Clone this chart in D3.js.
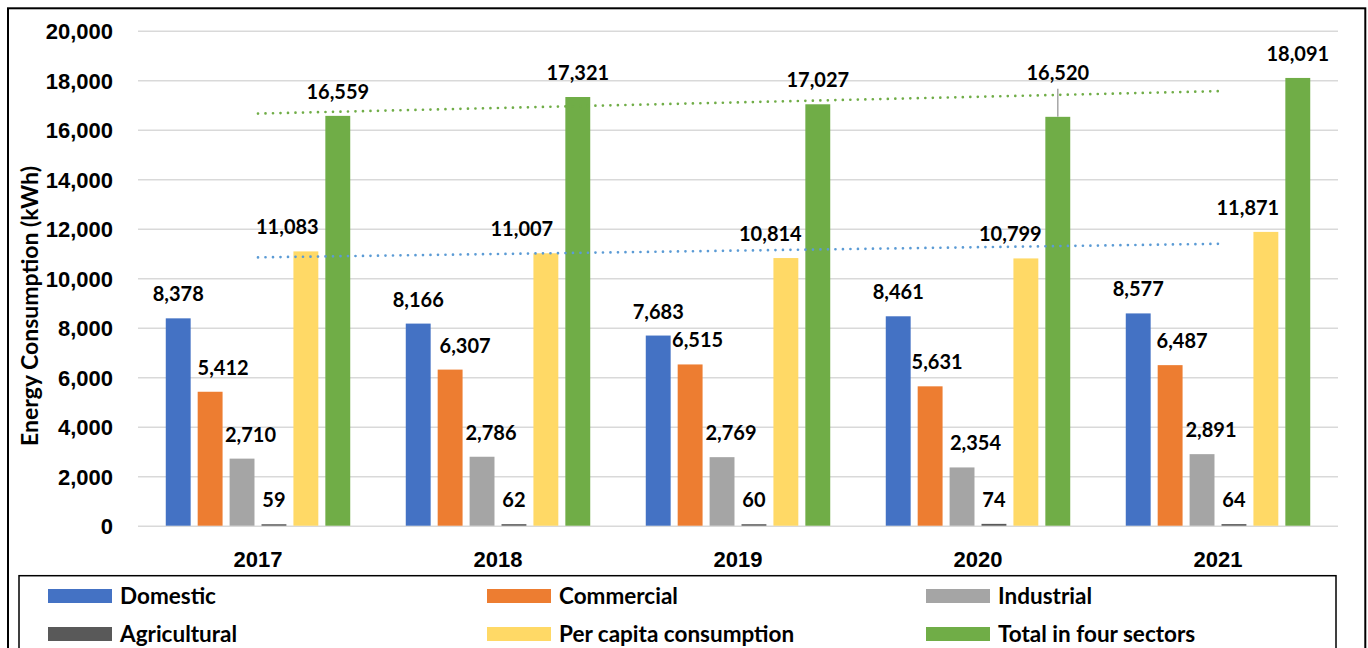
<!DOCTYPE html>
<html>
<head>
<meta charset="utf-8">
<script src="https://cdn.jsdelivr.net/npm/d3@7"></script>
<style>
  html, body { margin: 0; padding: 0; background: #fff; }
  svg { display: block; font-family: Lato, "Open Sans", "DejaVu Sans", sans-serif; font-weight: 700; }
</style>
</head>
<body>
<svg id="chart" width="1368" height="648"></svg>
<script>
// Energy consumption by sector, 2017–2021 (kWh)
const years = ["2017", "2018", "2019", "2020", "2021"];
const domestic     = [8378, 8166, 7683, 8461, 8577];
const commercial   = [5412, 6307, 6515, 5631, 6487];
const industrial   = [2710, 2786, 2769, 2354, 2891];
const agricultural = [59, 62, 60, 74, 64];
const perCapita    = [11083, 11007, 10814, 10799, 11871];
const totalFour    = [16559, 17321, 17027, 16520, 18091];
const yTicks = [0, 2000, 4000, 6000, 8000, 10000, 12000, 14000, 16000, 18000, 20000];

const seriesNames = ["Domestic", "Commercial", "Industrial", "Agricultural", "Per capita consumption", "Total in four sectors"];
const seriesValues = [domestic, commercial, industrial, agricultural, perCapita, totalFour];
const seriesColors = ["#4472C4", "#ED7D31", "#A5A5A5", "#595959", "#FFD966", "#70AD47"];

// Hand-placed label nudges (px) so neighbouring value labels don't collide
const labelNudgeX = [
  [0, 0, 0, 0, 0],
  [13, 15, 7.5, 7, 12],
  [8.5, 9, 9, 13.5, 9],
  [0, 0, 0, 0, 0],
  [-18.5, -24, -15.5, -15.5, -18],
  [0, 0, 0, 0, 0]
];
const labelLiftY = [
  [0, 0, 0, 0, 0],
  [0, 0, 0, 0, 0],
  [0, 0, 0, 0, 0],
  [0, 0, 0, 0, 0],
  [0, 0, 0, 0, 0],
  [0, 0, 0, 20, 0]
];

const series = seriesNames.map((name, i) => ({
  key: name, color: seriesColors[i],
  values: years.map((yr, j) => ({ year: yr, value: seriesValues[i][j], dx: labelNudgeX[i][j], lift: labelLiftY[i][j] }))
}));

const plot = { left: 138, right: 1338, top: 30.7, bottom: 525.7 };
const svg = d3.select("#chart");
const fmt = d3.format(",");

// outer frame
svg.append("rect")
  .attr("x", 8).attr("y", 8.3).attr("width", 1357.3).attr("height", 700)
  .attr("fill", "none").attr("stroke", "#000").attr("stroke-width", 2);

const x0 = d3.scaleBand().domain(years).range([plot.left, plot.right]);
const x1 = d3.scaleBand().domain(seriesNames).range([0, x0.bandwidth()])
  .paddingInner(0.22).paddingOuter(0.87);
const y = d3.scaleLinear().domain([0, 20000]).range([plot.bottom, plot.top]);

// y axis with gridlines
const yAxis = svg.append("g")
  .attr("transform", `translate(${plot.left},0)`)
  .call(d3.axisLeft(y).tickValues(yTicks).tickFormat(fmt)
    .tickSize(-(plot.right - plot.left)).tickPadding(25));
yAxis.select(".domain").remove();
yAxis.selectAll(".tick line").attr("stroke", "#D9D9D9").attr("stroke-width", 1.6);
yAxis.selectAll(".tick text")
  .attr("fill", "#000").attr("font-size", 22).attr("font-family", null).attr("dy", "0.36em");

// x axis labels
const xAxis = svg.append("g")
  .attr("transform", `translate(0,${plot.bottom})`)
  .call(d3.axisBottom(x0).tickSize(0));
xAxis.select(".domain").remove();
xAxis.selectAll(".tick text")
  .attr("fill", "#000").attr("font-size", 22).attr("font-family", null)
  .attr("y", 41.5).attr("dy", 0);

// y axis title
svg.append("text")
  .attr("transform", "translate(38,306) rotate(-90)")
  .attr("text-anchor", "middle")
  .attr("font-size", 23)
  .attr("fill", "#000")
  .text("Energy Consumption (kWh)");

// bars
const groups = svg.append("g").selectAll("g").data(series).join("g")
  .attr("fill", d => d.color);
groups.selectAll("rect").data(d => d.values.map(v => ({ ...v, key: d.key })))
  .join("rect")
  .attr("x", d => x0(d.year) + x1(d.key))
  .attr("y", d => y(d.value))
  .attr("width", x1.bandwidth())
  .attr("height", d => y(0) - y(d.value));

// linear trendlines for per-capita and total series
function linearFit(vals) {
  const xs = vals.map((_, i) => i + 1);
  const mx = d3.mean(xs), my = d3.mean(vals);
  const slope = d3.sum(xs, (xv, i) => (xv - mx) * (vals[i] - my)) / d3.sum(xs, xv => (xv - mx) ** 2);
  return xs.map(xv => my + slope * (xv - mx));
}
const trendLine = d3.line()
  .x((d, i) => x0(years[i]) + x0.bandwidth() / 2)
  .y(d => y(d));
[[totalFour, "#70AD47"], [perCapita, "#5B9BD5"]].forEach(([vals, col]) => {
  svg.append("path")
    .attr("d", trendLine(linearFit(vals)))
    .attr("fill", "none")
    .attr("stroke", col)
    .attr("stroke-width", 2.7)
    .attr("stroke-linecap", "round")
    .attr("stroke-dasharray", "0 7.5");
});

// leader line for the lifted 2020 total label
series.forEach(s => s.values.forEach(v => {
  if (v.lift > 0) {
    const cx = x0(v.year) + x1(s.key) + x1.bandwidth() / 2 + v.dx;
    svg.append("line")
      .attr("x1", cx).attr("x2", cx)
      .attr("y1", y(v.value) - v.lift - 8).attr("y2", y(v.value))
      .attr("stroke", "#A6A6A6").attr("stroke-width", 1.5);
  }
}));

// value labels
const labels = svg.append("g").attr("font-size", 20).attr("fill", "#000").attr("text-anchor", "middle");
series.forEach(s => {
  labels.selectAll(null).data(s.values).join("text")
    .attr("x", d => x0(d.year) + x1(s.key) + x1.bandwidth() / 2 + d.dx)
    .attr("y", d => y(d.value) - 17 - d.lift)
    .text(d => fmt(d.value));
});

// legend
svg.append("rect")
  .attr("x", 19).attr("y", 575.7).attr("width", 1317).attr("height", 200)
  .attr("fill", "#fff").attr("stroke", "#000").attr("stroke-width", 1.5);
const legendCols = [48, 487, 926];
const legendRows = [589, 627];
const legend = svg.append("g").selectAll("g").data(series).join("g")
  .attr("transform", (d, i) => `translate(${legendCols[i % 3]},${legendRows[Math.floor(i / 3)]})`);
legend.append("rect").attr("width", 64).attr("height", 14).attr("fill", d => d.color);
legend.append("text")
  .attr("x", 72).attr("y", 7).attr("dy", "0.36em")
  .attr("font-size", 22.5).attr("fill", "#000")
  .text(d => d.key);
</script>
</body>
</html>
